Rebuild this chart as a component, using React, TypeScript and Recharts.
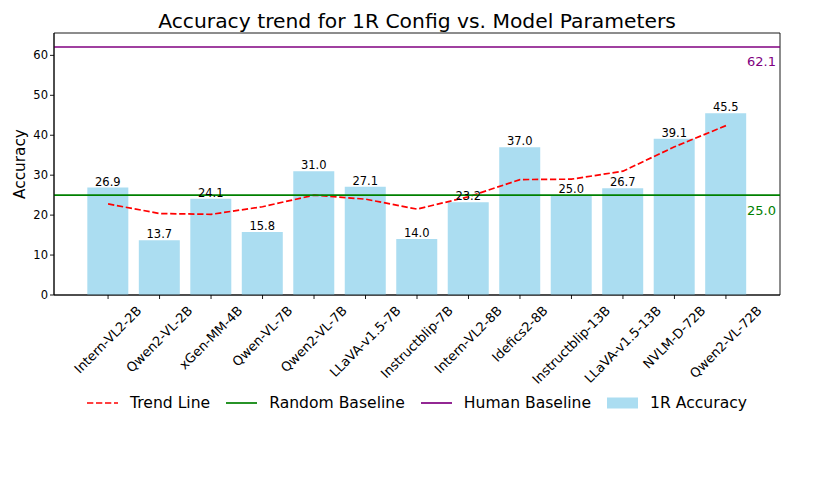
import React from 'react';
import {
  ComposedChart,
  Bar,
  Line,
  XAxis,
  YAxis,
  ReferenceLine,
  ReferenceArea,
  LabelList,
} from 'recharts';

const models = [
  'Intern-VL2-2B',
  'Qwen2-VL-2B',
  'xGen-MM-4B',
  'Qwen-VL-7B',
  'Qwen2-VL-7B',
  'LLaVA-v1.5-7B',
  'Instructblip-7B',
  'Intern-VL2-8B',
  'Idefics2-8B',
  'Instructblip-13B',
  'LLaVA-v1.5-13B',
  'NVLM-D-72B',
  'Qwen2-VL-72B',
];
const accuracy = [26.9, 13.7, 24.1, 15.8, 31.0, 27.1, 14.0, 23.2, 37.0, 25.0, 26.7, 39.1, 45.5];
const trend = [22.8, 20.4, 20.2, 22.1, 25.0, 24.0, 21.5, 24.6, 28.9, 29.0, 31.0, 37.1, 42.4];
const randomBaseline = 25.0;
const humanBaseline = 62.1;
const yTicks = [0, 10, 20, 30, 40, 50, 60];

const data = models.map((name, i) => ({ idx: i, name, acc: accuracy[i], trend: trend[i] }));
const xTicks = models.map((_, i) => i);

const FONT = '"DejaVu Sans", sans-serif';
const BAR_COLOR = '#abddf1';
const Y_MAX = 65.6;
const X_MIN = -1.05;
const X_MAX = models.length - 1 + 1.05;

let ctx: CanvasRenderingContext2D | null = null;
function textWidth(s: string, size: number) {
  if (!ctx) ctx = document.createElement('canvas').getContext('2d');
  if (!ctx) return s.length * size * 0.6;
  ctx.font = `${size}px "DejaVu Sans"`;
  return ctx.measureText(s).width;
}

// rotated 45deg labels, bbox centred on the tick like matplotlib
function ModelTick(props: any) {
  const { x, y, payload } = props;
  const label = models[payload.value] ?? '';
  const fs = 13;
  const L = textWidth(label, fs);
  const mx = x + 3;
  const my = y + 10.5 + 0.354 * L;
  return (
    <text
      x={mx}
      y={my}
      textAnchor="middle"
      transform={`rotate(-45 ${mx} ${my})`}
      fontSize={fs}
      fontFamily={FONT}
      fill="#000"
    >
      {label}
    </text>
  );
}

function BarValue(props: any) {
  const { x, y, width, value } = props;
  return (
    <text x={x + width / 2} y={y - 2} textAnchor="middle" fontSize={11.5} fontFamily={FONT} fill="#000">
      {Number(value).toFixed(1)}
    </text>
  );
}

function baselineLabel(text: string, color: string) {
  return (props: any) => {
    const vb = props.viewBox;
    return (
      <text
        x={vb.x + vb.width - 4}
        y={vb.y + 15}
        textAnchor="end"
        dominantBaseline="central"
        fontSize={13}
        fontFamily={FONT}
        fill={color}
      >
        {text}
      </text>
    );
  };
}

function LegendItem({ kind, label }: { kind: string; label: string }) {
  let handle;
  if (kind === 'bar') {
    handle = <rect x={0} y={0.5} width={31} height={11} fill={BAR_COLOR} />;
  } else {
    const color = kind === 'trend' ? '#ff0000' : kind === 'random' ? '#008000' : '#800080';
    handle = (
      <line
        x1={0}
        x2={31}
        y1={6}
        y2={6}
        stroke={color}
        strokeWidth={1.7}
        strokeDasharray={kind === 'trend' ? '6.3 2.7' : undefined}
      />
    );
  }
  return (
    <div style={{ display: 'flex', alignItems: 'center', margin: '0 8px' }}>
      <svg width={31} height={12} style={{ marginRight: 12 }}>
        {handle}
      </svg>
      <span>{label}</span>
    </div>
  );
}

export default function App() {
  return (
    <div style={{ position: 'absolute', left: 0, top: 0, width: 814, height: 488, background: '#fff', fontFamily: FONT }}>
      <div
        style={{
          position: 'absolute',
          left: 54,
          width: 726,
          top: 11,
          textAlign: 'center',
          fontSize: 20.3,
          lineHeight: '20px',
          color: '#000',
        }}
      >
        Accuracy trend for 1R Config vs. Model Parameters
      </div>
      <ComposedChart width={814} height={488} data={data} margin={{ top: 33, right: 34, left: 0, bottom: 0 }}>
        <XAxis
          dataKey="idx"
          type="number"
          domain={[X_MIN, X_MAX]}
          allowDataOverflow
          ticks={xTicks}
          height={193}
          tick={<ModelTick />}
          tickSize={4}
          tickMargin={2}
          interval={0}
          axisLine={{ stroke: '#000', strokeWidth: 0.9 }}
          tickLine={{ stroke: '#000', strokeWidth: 0.9 }}
        />
        <YAxis
          width={54}
          domain={[0, Y_MAX]}
          ticks={yTicks}
          tickSize={4}
          tickMargin={2}
          interval={0}
          tick={{ fontSize: 11.5, fontFamily: FONT, fill: '#000' }}
          axisLine={{ stroke: '#000', strokeWidth: 0.9 }}
          tickLine={{ stroke: '#000', strokeWidth: 0.9 }}
          label={(props: any) => {
            const vb = props.viewBox;
            const cx = vb.x + 20;
            const cy = vb.y + vb.height / 2;
            return (
              <text
                x={cx}
                y={cy}
                transform={`rotate(-90 ${cx} ${cy})`}
                textAnchor="middle"
                dominantBaseline="central"
                fontSize={15.3}
                fontFamily={FONT}
                fill="#000"
              >
                Accuracy
              </text>
            );
          }}
        />
        <Bar dataKey="acc" fill={BAR_COLOR} barSize={41} isAnimationActive={false}>
          <LabelList dataKey="acc" content={<BarValue />} />
        </Bar>
        <Line
          dataKey="trend"
          type="linear"
          stroke="#ff0000"
          strokeWidth={1.7}
          strokeDasharray="6.3 2.7"
          dot={false}
          activeDot={false}
          isAnimationActive={false}
        />
        <ReferenceLine
          y={randomBaseline}
          stroke="#008000"
          strokeWidth={1.7}
          label={baselineLabel(randomBaseline.toFixed(1), '#008000')}
        />
        <ReferenceLine
          y={humanBaseline}
          stroke="#800080"
          strokeWidth={1.7}
          label={baselineLabel(humanBaseline.toFixed(1), '#800080')}
        />
        {/* axes frame (spines) */}
        <ReferenceArea
          x1={X_MIN}
          x2={X_MAX}
          y1={0}
          y2={Y_MAX}
          fill="none"
          fillOpacity={0}
          stroke="#000"
          strokeWidth={0.9}
          strokeOpacity={1}
        />
      </ComposedChart>
      <div
        style={{
          position: 'absolute',
          left: 54,
          width: 726,
          top: 393,
          display: 'flex',
          justifyContent: 'center',
          fontSize: 15.6,
          lineHeight: '20px',
          color: '#000',
        }}
      >
        <LegendItem kind="trend" label="Trend Line" />
        <LegendItem kind="random" label="Random Baseline" />
        <LegendItem kind="human" label="Human Baseline" />
        <LegendItem kind="bar" label="1R Accuracy" />
      </div>
    </div>
  );
}
